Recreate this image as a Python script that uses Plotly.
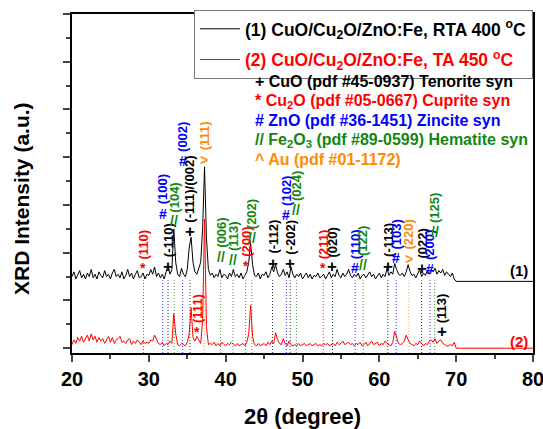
import plotly.graph_objects as go

FONT = "Arial, 'Liberation Sans', sans-serif"

# ---- data (2theta grid, step 0.25 deg, 20..69.75) ----
theta_start = 20.0
theta_step = 0.25

red_vals = [
    0.15, 0.35, 0.2, 0.45,   # 20
    0.3, 0.5, 0.25, 0.4,     # 21
    0.55, 0.3, 0.6, 0.35,    # 22
    0.5, 0.25, 0.45, 0.3,    # 23
    0.4, 0.2, 0.35, 0.5,     # 24
    0.25, 0.45, 0.2, 0.35,   # 25
    0.4, 0.5, 0.25, 0.3,     # 26
    0.2, 0.35, 0.4, 0.15,    # 27
    0.3, 0.2, 0.35, 0.25,    # 28
    0.15, 0.3, 0.2, 0.25,    # 29
    0.2, 0.35, 0.3, 0.55,    # 30
    0.4, 0.2, 0.15, 0.25,    # 31
    0.1, 0.2, 0.15, 0.3,     # 32
    0.2, 1.45, 0.6, 0.15,    # 33
    0.1, 0.2, 0.15, 0.1,     # 34
    0.25, 0.6, 1.7, 0.45,    # 35
    0.3, 0.5, 0.35, 0.2,     # 36
    1.2, 5.4, 0.9, 0.15,     # 37
    0.2, 0.15, 0.25, 0.1,    # 38
    0.2, 0.1, 0.25, 0.15,    # 39
    0.1, 0.2, 0.15, 0.25,    # 40
    0.15, 0.1, 0.2, 0.1,     # 41
    0.15, 0.2, 0.1, 0.25,    # 42
    0.6, 1.8, 0.5, 0.15,     # 43
    0.1, 0.2, 0.1, 0.15,     # 44
    0.2, 0.1, 0.25, 0.15,    # 45
    0.3, 0.2, 0.65, 0.35,    # 46
    0.2, 0.15, 0.4, 0.2,     # 47
    0.1, 0.3, 0.15, 0.1,     # 48
    0.15, 0.1, 0.2, 0.1,     # 49
    0.15, 0.2, 0.1, 0.15,    # 50
    0.2, 0.1, 0.15, 0.2,     # 51
    0.1, 0.15, 0.1, 0.2,     # 52
    0.15, 0.2, 0.1, 0.15,    # 53
    0.2, 0.1, 0.25, 0.15,    # 54
    0.2, 0.3, 0.15, 0.2,     # 55
    0.25, 0.15, 0.2, 0.1,    # 56
    0.2, 0.15, 0.25, 0.1,    # 57
    0.15, 0.25, 0.1, 0.2,    # 58
    0.3, 0.15, 0.2, 0.25,    # 59
    0.1, 0.2, 0.15, 0.3,     # 60
    0.2, 0.15, 0.1, 0.25,    # 61
    0.7, 0.45, 0.2, 0.15,    # 62
    0.2, 0.3, 0.55, 0.35,    # 63
    0.2, 0.15, 0.1, 0.2,     # 64
    0.15, 0.3, 0.2, 0.1,     # 65
    0.2, 0.15, 0.3, 0.35,    # 66
    0.25, 0.4, 0.2, 0.3,     # 67
    0.35, 0.2, 0.15, 0.1,    # 68
    0.1, 0.15, 0.1, 0.25,    # 69
]

black_vals = [
    3.0, 3.2, 2.9, 3.1,      # 20
    3.25, 2.95, 3.1, 2.9,    # 21
    3.15, 3.0, 3.3, 2.95,    # 22
    3.1, 2.9, 3.2, 3.05,     # 23
    2.95, 3.25, 3.0, 3.1,    # 24
    2.9, 3.15, 3.3, 3.0,     # 25
    3.1, 2.95, 3.2, 2.9,     # 26
    3.05, 3.3, 3.0, 3.15,    # 27
    2.9, 3.1, 3.25, 2.95,    # 28
    3.0, 3.15, 2.9, 3.1,     # 29
    3.05, 3.3, 3.1, 3.4,     # 30
    3.0, 3.15, 2.95, 3.1,    # 31
    2.9, 3.2, 3.45, 3.1,     # 32
    3.3, 5.0, 3.6, 3.1,      # 33
    3.0, 3.35, 3.1, 3.0,     # 34
    3.3, 4.2, 4.65, 3.6,     # 35
    3.2, 3.1, 3.35, 3.6,     # 36
    5.0, 7.6, 4.6, 3.3,      # 37
    3.05, 3.15, 2.95, 3.1,   # 38
    3.0, 3.3, 2.95, 3.1,     # 39
    3.05, 2.9, 3.15, 3.0,    # 40
    3.3, 3.0, 3.1, 2.95,     # 41
    3.15, 2.9, 3.05, 3.2,    # 42
    3.6, 4.4, 3.5, 3.05,     # 43
    3.0, 3.15, 2.9, 3.1,     # 44
    3.05, 3.2, 2.95, 3.1,    # 45
    3.4, 3.2, 3.5, 3.15,     # 46
    3.0, 3.1, 3.3, 3.05,     # 47
    3.2, 2.95, 3.4, 3.1,     # 48
    2.95, 3.1, 3.0, 3.15,    # 49
    2.9, 3.05, 3.15, 2.95,   # 50
    3.1, 2.9, 3.05, 3.0,     # 51
    3.15, 2.95, 3.0, 3.1,    # 52
    2.9, 3.05, 3.2, 2.95,    # 53
    3.1, 3.0, 3.3, 3.05,     # 54
    2.95, 3.15, 3.0, 3.1,    # 55
    3.3, 3.05, 2.95, 3.1,    # 56
    3.0, 3.15, 2.9, 3.05,    # 57
    3.1, 2.95, 3.05, 3.2,    # 58
    3.0, 3.1, 2.9, 3.05,     # 59
    3.15, 2.95, 3.1, 3.0,    # 60
    3.35, 3.05, 3.2, 3.1,    # 61
    3.55, 3.3, 3.1, 3.05,    # 62
    3.15, 3.0, 3.2, 3.5,     # 63
    3.2, 3.05, 3.1, 2.95,    # 64
    3.1, 3.3, 3.0, 3.15,     # 65
    3.05, 3.25, 3.1, 3.3,    # 66
    3.2, 3.35, 3.1, 3.25,    # 67
    3.15, 3.3, 3.05, 3.2,    # 68
    3.1, 3.0, 3.15, 2.9,     # 69
]

# flat tail of each pattern (70..80 deg)
tail_theta = [70.0, 80.0]
red_tail = [0.0, 0.0]
black_tail = [2.8, 2.8]

theta = [round(theta_start + i * theta_step, 2) for i in range(len(red_vals))]

# ---- reflection labels ----
lab_theta = [29.3, 31.8, 32.5, 33.3, 34.4, 35.35, 37.2, 39.35, 40.95, 42.6, 43.4,
             46.1, 47.9, 48.4, 49.2, 52.7, 53.9, 56.85, 57.9, 61.1, 62.2, 63.85,
             65.5, 66.6, 67.2, 36.3, 68.2]
lab_phase = ['Cu2O', 'ZnO', 'CuO', 'Fe2O3', 'ZnO', 'CuO', 'Au', 'Fe2O3', 'Fe2O3', 'Cu2O', 'Fe2O3',
             'CuO', 'ZnO', 'CuO', 'Fe2O3', 'Cu2O', 'CuO', 'ZnO', 'Fe2O3', 'CuO', 'ZnO', 'Au',
             'CuO', 'ZnO', 'Fe2O3', 'Cu2O', 'CuO']
lab_hkl = ['(110)', '(100)', '(-110)', '(104)', '(002)', '(-111)/(002)', '(111)', '(006)', '(113)',
           '(200)', '(202)', '(-112)', '(102)', '(-202)', '(024)', '(211)', '(020)', '(110)',
           '(122)', '(-113)', '(103)', '(220)', '(022)', '(200)', '(125)', '(111)', '(113)']
lab_y = [3.36, 5.64, 3.44, 5.31, 7.83, 4.90, 7.9, 3.82, 3.69, 3.44, 4.60,
         3.57, 5.60, 3.53, 5.80, 3.36, 3.44, 3.36, 3.49, 3.44, 3.77, 3.75,
         3.36, 3.32, 4.85, 0.67, 0.68]
lab_line = [True] * 25 + [False, False]

phase_symbol = {'CuO': '+', 'Cu2O': '*', 'ZnO': '#', 'Fe2O3': '//', 'Au': '&gt;'}
phase_symsize = {'CuO': 17, 'Cu2O': 14, 'ZnO': 14, 'Fe2O3': 14, 'Au': 14}
phase_color = {'CuO': '#000000', 'Cu2O': '#FF0000', 'ZnO': '#0000FF',
               'Fe2O3': '#118811', 'Au': '#FF8C00'}

phase_keys = ['CuO', 'Cu2O', 'ZnO', 'Fe2O3', 'Au']
phase_text = ['+ CuO (pdf #45-0937) Tenorite syn',
              '* Cu<sub>2</sub>O (pdf #05-0667) Cuprite syn',
              '# ZnO (pdf #36-1451) Zincite syn',
              '// Fe<sub>2</sub>O<sub>3</sub> (pdf #89-0599) Hematite syn',
              '^ Au (pdf #01-1172)']

series_names = ['(1) CuO/Cu<sub>2</sub>O/ZnO:Fe, RTA 400 <sup>o</sup>C',
                "<span style='color:#FF0000'>(2) CuO/Cu<sub>2</sub>O/ZnO:Fe, TA 450 <sup>o</sup>C</span>"]

fig = go.Figure()
fig.add_trace(go.Scatter(x=theta + tail_theta, y=black_vals + black_tail, mode='lines',
                         line=dict(color='#000000', width=1), name=series_names[0],
                         legendgroup='a'))
fig.add_trace(go.Scatter(x=theta + tail_theta, y=red_vals + red_tail, mode='lines',
                         line=dict(color='#FF0000', width=1), name=series_names[1],
                         legendgroup='b'))

shapes = []
annotations = []
for t, ph, hkl, yy, ln in zip(lab_theta, lab_phase, lab_hkl, lab_y, lab_line):
    col = phase_color[ph]
    if ln:
        shapes.append(dict(type='line', xref='x', yref='y', x0=t, x1=t, y0=-0.2, y1=2.85,
                           line=dict(color=col, width=1, dash='1px,2px'), opacity=0.8,
                           layer='below'))
    annotations.append(dict(x=t, y=yy, xref='x', yref='y', text=phase_symbol[ph],
                            showarrow=False, xanchor='center', yanchor='middle', textangle=0,
                            font=dict(family=FONT, size=phase_symsize[ph], color=col, weight='bold')))
    annotations.append(dict(x=t, y=yy, xref='x', yref='y', text=hkl, textangle=-90,
                            showarrow=False, xanchor='center', yanchor='bottom', yshift=7,
                            font=dict(family=FONT, size=13, color=col, weight='bold')))

# phase key list
key_y = [0.802, 0.743, 0.685, 0.627, 0.571]
for k, txt, ky in zip(phase_keys, phase_text, key_y):
    annotations.append(dict(x=0.392, y=ky, xref='paper', yref='paper', text=txt,
                            showarrow=False, xanchor='left', yanchor='middle',
                            font=dict(family=FONT, size=16, color=phase_color[k], weight='bold')))

# curve tags
annotations.append(dict(x=79.6, y=3.25, xref='x', yref='y', text='(1)', showarrow=False,
                        xanchor='right', yanchor='middle',
                        font=dict(family=FONT, size=15, color='#000000', weight='bold')))
annotations.append(dict(x=79.6, y=0.3, xref='x', yref='y', text='(2)', showarrow=False,
                        xanchor='right', yanchor='middle',
                        font=dict(family=FONT, size=15, color='#FF0000', weight='bold')))

# y-axis title (placed as rotated text to match the reference position)
annotations.append(dict(x=-0.108, y=0.455, xref='paper', yref='paper',
                        text='XRD Intensity (a.u.)', textangle=-90, showarrow=False,
                        xanchor='center', yanchor='middle',
                        font=dict(family=FONT, size=21, color='#000000', weight='bold')))

fig.update_layout(
    width=543, height=429,
    margin=dict(l=72, r=10, t=10, b=76),
    paper_bgcolor='white', plot_bgcolor='white',
    font=dict(family=FONT, color='#000000'),
    shapes=shapes, annotations=annotations,
    legend=dict(x=1, y=1.012, xanchor='right', yanchor='top', bgcolor='white',
                bordercolor='#777777', borderwidth=1, itemwidth=40,
                traceorder='grouped', tracegroupgap=5,
                font=dict(family=FONT, size=17.5, color='#000000', weight='bold')),
    showlegend=True,
)
fig.update_xaxes(range=[20, 80], tick0=20, dtick=10, ticks='outside', ticklen=7, tickwidth=1.5,
                 showline=True, linewidth=2, linecolor='#000000', mirror=True, showgrid=False,
                 zeroline=False, automargin=False, ticklabeloverflow='allow',
                 minor=dict(dtick=5, ticks='outside', ticklen=4, tickwidth=1.5),
                 tickfont=dict(family=FONT, size=20, weight='bold'),
                 title=dict(text='2\u03b8 (degree)', standoff=23,
                            font=dict(family=FONT, size=22, weight='bold')))
fig.update_yaxes(range=[-0.2, 14.0], tick0=0, dtick=2, ticks='outside', ticklen=7, tickwidth=1.5,
                 showticklabels=False, showline=True, linewidth=2, linecolor='#000000',
                 mirror=True, showgrid=False, zeroline=False, automargin=False,
                 minor=dict(dtick=1, ticks='outside', ticklen=4, tickwidth=1.5))

fig.write_html("out.html", config={'displayModeBar': False},
               post_script="document.body.style.margin='0';")
